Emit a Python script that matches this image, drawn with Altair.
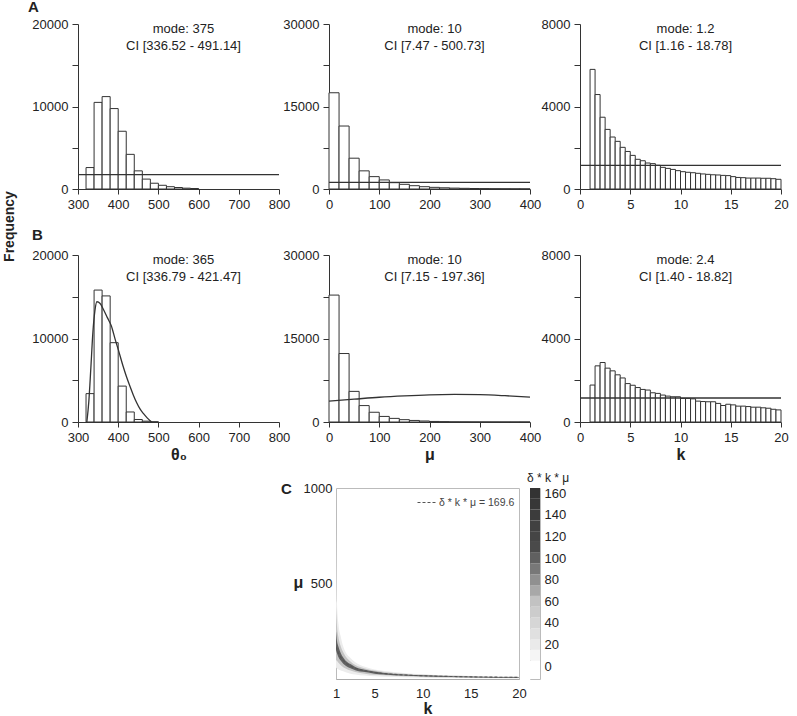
import altair as alt
import pandas as pd

FONT = "Liberation Sans"
INK = "#333333"
TXT = "#222222"

# ---------------- Row A: posteriors under uniform priors ----------------
theta_a_start = [320, 340, 360, 380, 400, 420, 440, 460, 480, 500, 520, 540, 560, 580]
theta_a_count = [2600, 10500, 11200, 9750, 7000, 4200, 2200, 1200, 700, 450, 280, 180, 100, 60]
theta_a_prior = 1750

mu_start = [0, 20, 40, 60, 80, 100, 120, 140, 160, 180, 200, 220, 240, 260, 280, 300, 320, 340, 360, 380]
mu_a_count = [17500, 11450, 5600, 3300, 2250, 1650, 1150, 850, 600, 420,
              300, 220, 160, 120, 90, 70, 50, 40, 30, 20]
mu_a_prior = 1200

k_start = [1.0, 1.5, 2.0, 2.5, 3.0, 3.5, 4.0, 4.5, 5.0, 5.5, 6.0, 6.5, 7.0, 7.5, 8.0, 8.5, 9.0, 9.5, 10.0,
           10.5, 11.0, 11.5, 12.0, 12.5, 13.0, 13.5, 14.0, 14.5, 15.0, 15.5, 16.0, 16.5, 17.0, 17.5,
           18.0, 18.5, 19.0, 19.5]
k_a_count = [5800, 4580, 3480, 2890, 2520, 2310, 2020, 1820, 1630, 1440, 1370, 1260, 1230, 1150,
             1050, 1000, 950, 890, 840, 810, 790, 760, 730, 710, 690, 680, 660, 650, 600, 560,
             550, 530, 530, 530, 520, 520, 500, 470]
k_a_prior = 1150

# ---------------- Row B: posteriors under informative priors ----------------
theta_b_start = [320, 340, 360, 380, 400, 420, 440, 460, 480]
theta_b_count = [3400, 15800, 15100, 9500, 4300, 1200, 300, 100, 30]
theta_b_curve_x = [322, 327, 332, 337, 342, 347, 355, 363, 373, 383, 393, 400, 412, 420, 429,
                   437, 446, 455, 463, 472, 483]
theta_b_curve_y = [0, 2500, 6500, 10700, 13300, 14400, 14200, 13500, 12500, 11500, 9800, 8700,
                   6700, 5500, 4300, 3300, 2300, 1500, 1000, 500, 0]

mu_b_count = [22800, 12300, 5500, 2950, 1750, 1000, 650, 420, 280, 180,
              100, 60, 30, 20, 15, 10, 8, 5, 4, 3]
mu_b_curve_x = [0, 50, 100, 150, 200, 250, 300, 350, 400]
mu_b_curve_y = [3750, 4100, 4450, 4700, 4880, 4950, 4900, 4720, 4480]

k_b_count = [1770, 2690, 2850, 2580, 2450, 2260, 2110, 1840, 1760, 1650, 1560, 1530, 1400, 1370,
             1290, 1240, 1210, 1210, 1130, 1130, 1110, 1000, 980, 970, 970, 890, 790, 850, 820,
             760, 760, 740, 710, 710, 680, 660, 610, 580]
k_b_prior = 1150

# ---------------- Panel C: joint density of k and mu ----------------
band_k = [1.0, 1.1, 1.25, 1.5, 1.75, 2.0, 2.5, 3.0, 4.0, 5.0, 6.0, 8.0, 10.0, 13.0, 16.0, 20.0]
outer_lo = [60, 55, 50, 45, 40, 35, 28, 24, 18, 14, 12, 9, 7, 5, 4, 3]
outer_hi = [800, 400, 290, 220, 170, 140, 110, 88, 64, 50, 42, 32, 25, 19, 15, 12]
mid_lo = [100, 95, 85, 72, 62, 55, 44, 37, 28, 22, 19, 14, 11, 8, 6, 5]
mid_hi = [380, 280, 220, 170, 140, 118, 92, 73, 55, 44, 37, 28, 22, 17, 13.5, 11]
core_lo = [150, 135, 115, 95, 80, 70, 56, 46, 36, 28, 24, 18, 14, 10.5, 8.5, 6.5]
core_hi = [250, 200, 170, 135, 112, 96, 78, 63, 48, 39, 32, 24, 19, 14.5, 11.5, 9.5]
product_const = 169.6
line_k = [1.0, 1.1, 1.2, 1.35, 1.5, 1.75, 2.0, 2.5, 3.0, 4.0, 5.0, 6.0, 8.0, 10.0, 12.5, 15.0, 17.5, 20.0]

cb_value = [0, 10, 20, 30, 40, 50, 60, 70, 80, 90, 100, 110, 120, 130, 140, 150, 160]
cb_lo = [-12, 5, 15, 25, 35, 45, 55, 65, 75, 85, 95, 105, 115, 125, 135, 145, 155]
cb_hi = [5, 15, 25, 35, 45, 55, 65, 75, 85, 95, 105, 115, 125, 135, 145, 155, 165]
cb_labels = [0, 20, 40, 60, 80, 100, 120, 140, 160]

W, HA, HB = 201, 165, 167
CW, CH = 183, 191
ROW_GAP = -49  # rows overlap through their outer layout frames


def x_axis(values, title=None):
    return alt.Axis(values=values, format="d", title=title, grid=False, tickSize=5,
                    labelPadding=4, labelFlush=False, domainColor=INK, tickColor=INK,
                    labelColor=TXT, labelFontSize=13, titleFontSize=16,
                    titleFontWeight="bold", titleColor=TXT, titlePadding=2)


def y_axis(values, major, **extra):
    return alt.Axis(values=values, format="d", grid=False, tickSize=6, labelPadding=4,
                    labelFlush=False,
                    labelExpr=f"datum.value % {major} === 0 ? datum.label : ''",
                    domainColor=INK, tickColor=INK, labelColor=TXT, labelFontSize=13,
                    **extra)


def label(text, x, y, size=15, weight="bold", align="left", baseline="alphabetic"):
    return alt.Chart(pd.DataFrame({"t": [text]})).mark_text(
        fontSize=size, fontWeight=weight, align=align, baseline=baseline, color=TXT,
        lineBreak="\n", lineHeight=17).encode(text="t:N", x=alt.value(x), y=alt.value(y))


def frame(x0, x1, y0, y1):
    # invisible box that fixes the outer extent of a row in the layout
    return alt.Chart(pd.DataFrame({"f": [0]})).mark_rect(opacity=0).encode(
        x=alt.value(x0), x2=alt.value(x1), y=alt.value(y0), y2=alt.value(y1))


def panel(starts, counts, bin_w, xdom, xvals, ydom, yvals, ymajor, mode, ci, h,
          prior=None, curve=None, xtitle=None, letter=None, yextra=None, extent=None):
    df = pd.DataFrame({"lo": starts, "n": counts})
    df["hi"] = df["lo"] + bin_w
    df["z"] = 0
    X = alt.X("lo:Q", scale=alt.Scale(domain=xdom, nice=False, zero=False, padding=0),
              axis=x_axis(xvals, xtitle))
    ykw = yextra or {"title": None}
    Y = alt.Y("n:Q", scale=alt.Scale(domain=ydom, nice=False, padding=0),
              axis=y_axis(yvals, ymajor, **ykw))
    layers = [alt.Chart(df).mark_rect(fill="white", stroke=INK, strokeWidth=1).encode(
        x=X, x2="hi:Q", y=Y, y2="z:Q")]
    if prior is not None:
        pdf = pd.DataFrame({"lo": [xdom[0]], "hi": [xdom[1]], "n": [prior]})
        layers.append(alt.Chart(pdf).mark_rule(color=INK, strokeWidth=1.3).encode(
            x=X, x2="hi:Q", y=Y))
    if curve is not None:
        cdf = pd.DataFrame({"lo": curve[0], "n": curve[1]})
        layers.append(alt.Chart(cdf).mark_line(color=INK, strokeWidth=1.3,
                                               interpolate="monotone").encode(x=X, y=Y))
    layers.append(label(f"{mode}\n{ci}", W / 2 + 5, -1, size=13, weight="normal",
                        align="center", baseline="top"))
    if letter is not None:
        layers.append(label(*letter))
    if extent is not None:
        layers.append(frame(*extent))
    return alt.layer(*layers).properties(width=W, height=h)


a1 = panel(theta_a_start, theta_a_count, 20, [300, 800], [300, 400, 500, 600, 700, 800],
           [0, 20000], [0, 5000, 10000, 15000, 20000], 10000, "mode: 375",
           "CI [336.52 - 491.14]", HA, prior=theta_a_prior, letter=("A", -50, -12),
           extent=(-78, -77, -24, HA + 40))
a2 = panel(mu_start, mu_a_count, 20, [0, 400], [0, 100, 200, 300, 400],
           [0, 30000], [0, 7500, 15000, 22500, 30000], 15000, "mode: 10",
           "CI [7.47 - 500.73]", HA, prior=mu_a_prior)
a3 = panel(k_start, k_a_count, 0.5, [0, 20], [0, 5, 10, 15, 20],
           [0, 8000], [0, 2000, 4000, 6000, 8000], 4000, "mode: 1.2",
           "CI [1.16 - 18.78]", HA, prior=k_a_prior)

b1 = panel(theta_b_start, theta_b_count, 20, [300, 800], [300, 400, 500, 600, 700, 800],
           [0, 20000], [0, 5000, 10000, 15000, 20000], 10000, "mode: 365",
           "CI [336.79 - 421.47]", HB, curve=(theta_b_curve_x, theta_b_curve_y),
           xtitle="θ₀", letter=("B", -46, -15), extent=(-78, -77, -75, HB + 50),
           yextra={"title": "Frequency", "titleX": -69, "titleY": -29, "titleAngle": 270,
                   "titleAlign": "center", "titleBaseline": "middle", "titleFontSize": 14,
                   "titleFontWeight": "bold", "titleColor": TXT})
b2 = panel(mu_start, mu_b_count, 20, [0, 400], [0, 100, 200, 300, 400],
           [0, 30000], [0, 7500, 15000, 22500, 30000], 15000, "mode: 10",
           "CI [7.15 - 197.36]", HB, curve=(mu_b_curve_x, mu_b_curve_y), xtitle="μ")
b3 = panel(k_start, k_b_count, 0.5, [0, 20], [0, 5, 10, 15, 20],
           [0, 8000], [0, 2000, 4000, 6000, 8000], 4000, "mode: 2.4",
           "CI [1.40 - 18.82]", HB, prior=k_b_prior, xtitle="k")

# ---------------- Panel C ----------------
kscale = alt.Scale(domain=[1, 20], nice=False, zero=False, padding=0)
muscale = alt.Scale(domain=[0, 1000], nice=False, padding=0)
kaxis = alt.Axis(values=[1, 5, 10, 15, 20], format="d", grid=False, ticks=False, tickSize=0,
                 labelPadding=8, labelFlush=False, domainColor="#aaaaaa", labelColor=TXT,
                 labelFontSize=13, title="k", titleFontSize=16, titleFontWeight="bold",
                 titleColor=TXT, titlePadding=0)
muaxis = alt.Axis(values=[500, 1000], format="d", grid=False, ticks=False, tickSize=0,
                  domain=False, labelPadding=4, labelFlush=False, labelColor=TXT,
                  labelFontSize=13, title="μ", titleAngle=0, titleAlign="center",
                  titleBaseline="middle", titleX=-38, titleY=94, titleFontSize=16,
                  titleFontWeight="bold", titleColor=TXT)

band_df = pd.DataFrame({"k": band_k, "olo": outer_lo, "ohi": outer_hi, "mlo": mid_lo,
                        "mhi": mid_hi, "clo": core_lo, "chi": core_hi})


def band(lo, hi, shade):
    return alt.Chart(band_df).mark_area(interpolate="monotone", clip=True, color=shade).encode(
        x=alt.X("k:Q", scale=kscale, axis=kaxis),
        y=alt.Y(f"{lo}:Q", scale=muscale, axis=muaxis),
        y2=f"{hi}:Q",
    )


line_df = pd.DataFrame({"k": line_k})
line_df["mu"] = product_const / line_df["k"]
line_df["lab"] = f"δ * k * μ = {product_const}"
dashed = alt.Chart(line_df).mark_line(color="#555555", strokeWidth=1.1, clip=True,
                                      interpolate="monotone").encode(
    x=alt.X("k:Q", scale=kscale, axis=kaxis),
    y=alt.Y("mu:Q", scale=muscale, axis=muaxis),
    strokeDash=alt.StrokeDash("lab:N", scale=alt.Scale(range=[[3, 2]]),
                              legend=alt.Legend(title=None, orient="top-right", symbolType="stroke",
                                                symbolSize=400, symbolStrokeWidth=1,
                                                symbolStrokeColor="#555555", labelFontSize=10.5,
                                                labelColor="#444444", offset=4, padding=0,
                                                labelOffset=1)),
)

panel_c = alt.layer(
    band("olo", "ohi", "#ececec"), band("mlo", "mhi", "#c4c4c4"),
    band("clo", "chi", "#616161"), dashed, label("C", -55, 6),
).properties(width=CW, height=CH, view=alt.ViewBackground(stroke="#bbbbbb"))

cb_df = pd.DataFrame({"v": cb_value, "lo": cb_lo, "hi": cb_hi})
colorbar = alt.Chart(cb_df).mark_rect().encode(
    x=alt.value(0), x2=alt.value(10),
    y=alt.Y("lo:Q", scale=alt.Scale(domain=[-12, 165], nice=False, zero=False, padding=0),
            axis=alt.Axis(orient="right", values=cb_labels, ticks=False, tickSize=0,
                          domain=False, labelPadding=4, labelFlush=False, labelColor=TXT,
                          labelFontSize=13, title=None, grid=False)),
    y2="hi:Q",
    color=alt.Color("v:Q", legend=None,
                    scale=alt.Scale(domain=[0, 60, 110, 160],
                                    range=["#ffffff", "#c2c2c2", "#4a4a4a", "#333333"])),
).properties(width=10, height=CH, view=alt.ViewBackground(stroke="#bbbbbb"),
             title=alt.TitleParams("δ * k * μ", anchor="start", frame="group", dx=-3,
                                   offset=2, fontSize=12, fontWeight="normal", color=TXT))

spacer = frame(0, 1, -65, 20).properties(width=247, height=20)

row_a = alt.hconcat(a1, a2, a3, spacing=50, bounds="flush")
row_b = alt.hconcat(b1, b2, b3, spacing=50, bounds="flush")
row_c = alt.hconcat(spacer, panel_c, colorbar, spacing=11, bounds="flush").resolve_scale(
    color="independent", strokeDash="independent")

chart = alt.vconcat(row_a, row_b, row_c, spacing=ROW_GAP).resolve_scale(
    strokeDash="independent", color="independent"
).properties(
    padding={"left": 0, "top": 0, "right": 5, "bottom": 2}
).configure_view(stroke=None).configure_axis(
    labelFont=FONT, titleFont=FONT
).configure_title(font=FONT).configure_text(font=FONT).configure_legend(labelFont=FONT)

chart.save("out.html", embed_options={"renderer": "svg", "actions": False})
